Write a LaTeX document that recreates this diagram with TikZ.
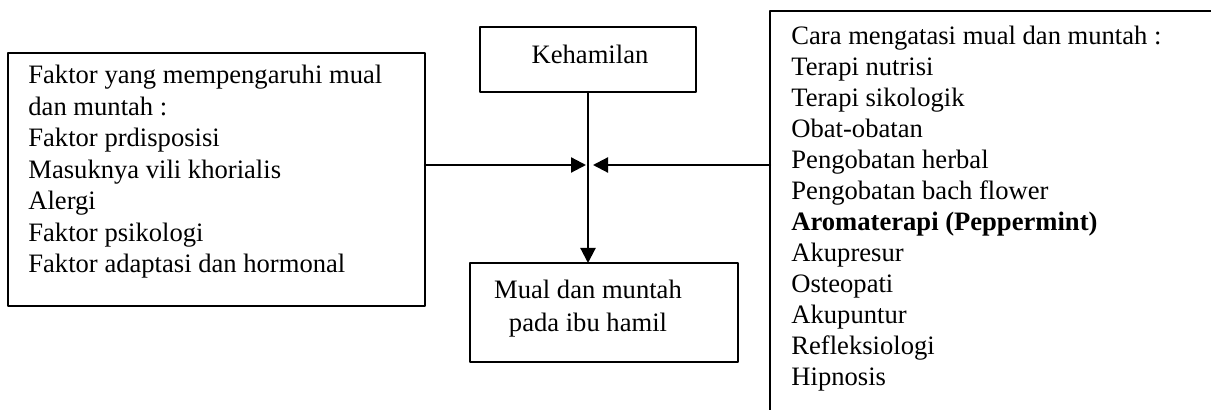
\documentclass[tikz,border=0pt]{standalone}
\usepackage{fontspec}
\setmainfont{Liberation Serif}
\usetikzlibrary{arrows.meta}

\begin{document}
\begin{tikzpicture}
    [line cap=round,line join=round,x=0.5pt,y=-0.5pt,
     kotak/.style={draw,line width=0.9pt,inner sep=0pt,outer sep=0pt},
     isi/.style={inner sep=0pt,font=\fontsize{13.3}{#1}\selectfont},
     panah/.style={-{Triangle[length=7.5pt,width=7.5pt]},line width=1.1pt}]
%page frame
\clip (0,0) rectangle (1211,410);

%the boxes
\node[kotak,minimum width=208.5pt,minimum height=126.5pt] (faktor) at (216.5,179.5) {};
\node[kotak,minimum width=108pt,minimum height=32.5pt] (hamil) at (588,59.5) {};
\node[kotak,minimum width=134pt,minimum height=49.5pt] (mual) at (604,312.5) {};
\node[kotak,minimum width=235pt,minimum height=214.5pt] (cara) at (1005,225.5) {};

%texts in the boxes (base = last line)
\node[isi=15.75pt,anchor=base west,align=left] (faktortxt) at (28,273)
   {Faktor yang mempengaruhi mual\\dan muntah :\\Faktor prdisposisi\\Masuknya vili khorialis\\Alergi\\Faktor psikologi\\Faktor adaptasi dan hormonal};
\node[isi=12.7pt,anchor=base] (hamiltxt) at (590,64) {Kehamilan};
\node[isi=16.75pt,anchor=base,align=center] (mualtxt) at (588,332) {Mual dan muntah\\pada ibu hamil};
\node[isi=15.5pt,anchor=base west,align=left] (caratxt) at (791,386)
   {Cara mengatasi mual dan muntah :\\Terapi nutrisi\\Terapi sikologik\\Obat-obatan\\Pengobatan herbal\\Pengobatan bach flower\\\textbf{Aromaterapi (Peppermint)}\\Akupresur\\Osteopati\\Akupuntur\\Refleksiologi\\Hipnosis};

%arrows
\coordinate (kiri) at (586,165);
\coordinate (kanan) at (593,165);
\draw[panah] (faktor.east |- kiri) -- (kiri);
\draw[panah] (cara.west |- kanan) -- (kanan);
\draw[panah] (hamil.south) -- (hamil.south |- mual.north);

\end{tikzpicture}
\end{document}
